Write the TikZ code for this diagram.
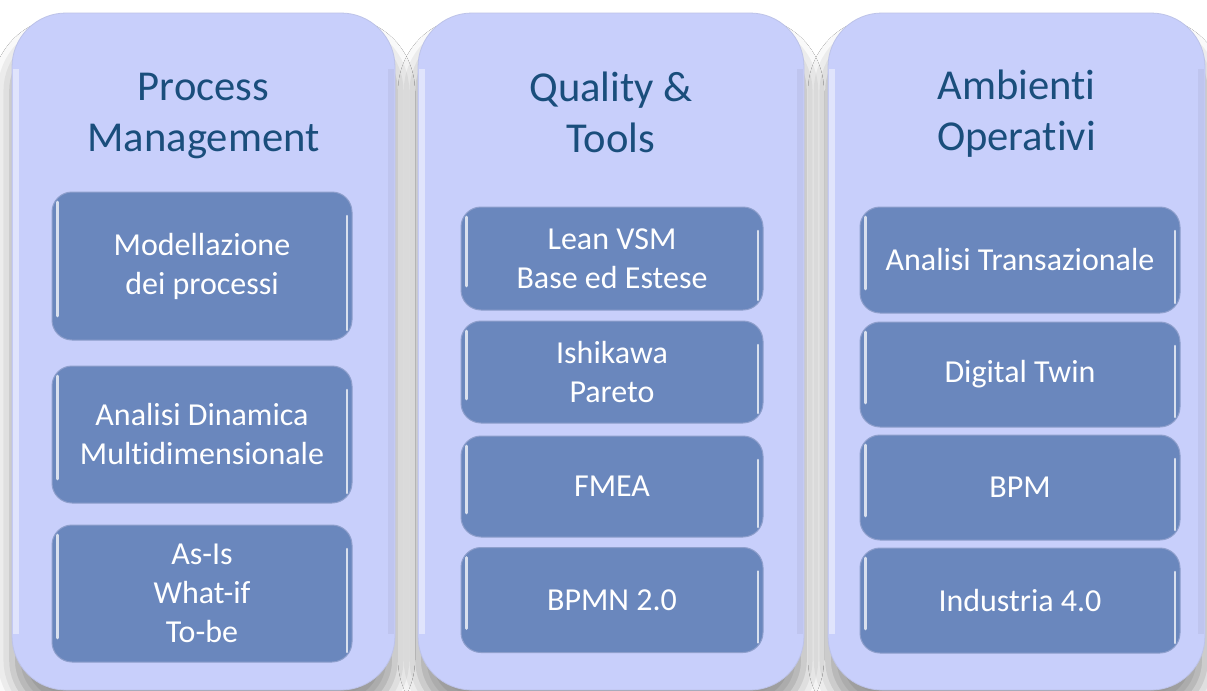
\documentclass[tikz,border=0pt]{standalone}
\usepackage{fontspec}
\setmainfont{Carlito}[Ligatures=NoCommon]
\usepackage{tikz}
\usetikzlibrary{positioning, shadows.blur}
\definecolor{colfill}{HTML}{C8CFFB}
\definecolor{boxfill}{HTML}{6A87BD}
\definecolor{boxline}{HTML}{8E9FCC}
\definecolor{headblue}{HTML}{1A4E7C}
\tikzset{
  column/.style={rounded corners=27pt, fill=colfill, draw=colfill!85!gray, line width=0.4pt,
    minimum width=#1, minimum height=338.5pt,
    blur shadow={shadow xshift=0pt, shadow yshift=-12pt, shadow blur radius=10pt, shadow opacity=40},
    path picture={
      \draw[white, line width=3pt, opacity=0.45]
        ([xshift=1.8pt,yshift=-28pt]path picture bounding box.north west) -- ([xshift=1.8pt,yshift=28pt]path picture bounding box.south west);
      \draw[colfill!70!black, line width=3pt, opacity=0.15]
        ([xshift=-1.8pt,yshift=-28pt]path picture bounding box.north east) -- ([xshift=-1.8pt,yshift=28pt]path picture bounding box.south east);
    }},
  header/.style={text=headblue, font=\fontsize{21.3}{25.5}\selectfont, align=center},
  itembox/.style={rounded corners=10pt, fill=boxfill, draw=boxline, line width=0.5pt,
    text=white, font=\fontsize{16}{19.5}\selectfont, align=center,
    minimum width=#1, inner sep=0pt,
    path picture={
      \draw[white, line width=1.3pt, opacity=0.75, line cap=round]
        ([xshift=2.6pt,yshift=-5pt]path picture bounding box.north west) -- ([xshift=2.6pt,yshift=12pt]path picture bounding box.south west);
      \draw[white, line width=1.3pt, opacity=0.75, line cap=round]
        ([xshift=-2.6pt,yshift=-12pt]path picture bounding box.north east) -- ([xshift=-2.6pt,yshift=5pt]path picture bounding box.south east);
    }},
}
\begin{document}
\begin{tikzpicture}[x=0.5pt, y=-0.5pt]
\useasboundingbox (0,0) rectangle (1207,691);
\fill[white] (0,0) rectangle (1207,691);

% columns
\node[column=191.5pt] (colproc) at (203.5,351.5) {};
\node[column=193pt] (colqual) at (611,351.5) {};
\node[column=188.5pt] (colamb) at (1016.5,351.5) {};

% headers
\node[header] (hproc) at (203.5,116) {Process\\Management};
\node[header] (hqual) at (611,112) {Quality \&\\Tools};
\node[header] (hamb) at (1016.5,114) {Ambienti\\Operativi};

% Process Management
\node[itembox=150pt, minimum height=74pt] (modproc) at (202,266) {Modellazione\\dei processi};
\node[itembox=150pt, minimum height=68.5pt] (anadin) at (202,434.5) {Analisi Dinamica\\Multidimensionale};
\node[itembox=150pt, minimum height=68.5pt] (asis) at (202,593.5) {As-Is\\What-if\\To-be};

% Quality & Tools
\node[itembox=151pt, minimum height=51.5pt] (lean) at (612,258.5) {Lean VSM\\Base ed Estese};
\node[itembox=151pt, minimum height=51pt] (ishi) at (612,372) {Ishikawa\\Pareto};
\node[itembox=151pt, minimum height=50.5pt] (fmea) at (612,486.5) {FMEA};
\node[itembox=151pt, minimum height=52.5pt] (bpmn) at (612,600) {BPMN 2.0};

% Ambienti Operativi
\node[itembox=160pt, minimum height=53pt] (trans) at (1020,260) {Analisi Transazionale};
\node[itembox=160pt, minimum height=52.5pt] (twin) at (1020,374.5) {Digital Twin};
\node[itembox=160pt, minimum height=52.5pt] (bpm) at (1020,487.5) {BPM};
\node[itembox=160pt, minimum height=52.5pt] (ind) at (1020,600.5) {Industria 4.0};
\end{tikzpicture}
\end{document}
